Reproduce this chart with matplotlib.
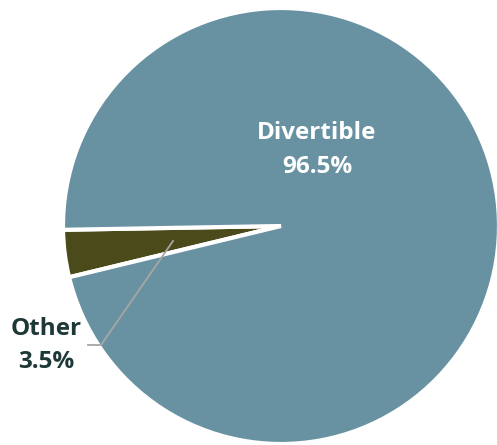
import matplotlib
matplotlib.use("Agg")
import matplotlib.pyplot as plt

labels = ["Other", "Divertible"]
shares = [3.5, 96.5]
colors = ["#4b4a1a", "#6892a2"]

W, H = 497, 445
fig = plt.figure(figsize=(W / 100, H / 100), dpi=100)
ax = fig.add_axes([0, 0, 1, 1])

cx, cy, r = 281, 219, 218
ax.pie(shares, colors=colors, startangle=181, counterclock=True,
       center=(cx, cy), radius=r, frame=True,
       wedgeprops=dict(edgecolor="white", linewidth=3))
ax.set_xlim(0, W)
ax.set_ylim(0, H)
ax.set_aspect("equal")
ax.axis("off")

font = "Open Sans"
# Divertible label
ax.text(317, H - 133, labels[1], ha="center", va="center", color="white",
        fontsize=17.5, fontweight="bold", family=font)
ax.text(317, H - 167, f"{shares[1]}%", ha="center", va="center", color="white",
        fontsize=17.5, fontweight="bold", family=font)

# Other label with leader line
ax.plot([173, 101, 88], [H - 241, H - 345, H - 345], color="#a6a6a6", lw=1.3)
ax.text(46, H - 329, labels[0], ha="center", va="center", color="#1e3838",
        fontsize=17.5, fontweight="bold", family=font)
ax.text(46, H - 362, f"{shares[0]}%", ha="center", va="center", color="#1e3838",
        fontsize=17.5, fontweight="bold", family=font)

fig.savefig("out.png", dpi=100)
